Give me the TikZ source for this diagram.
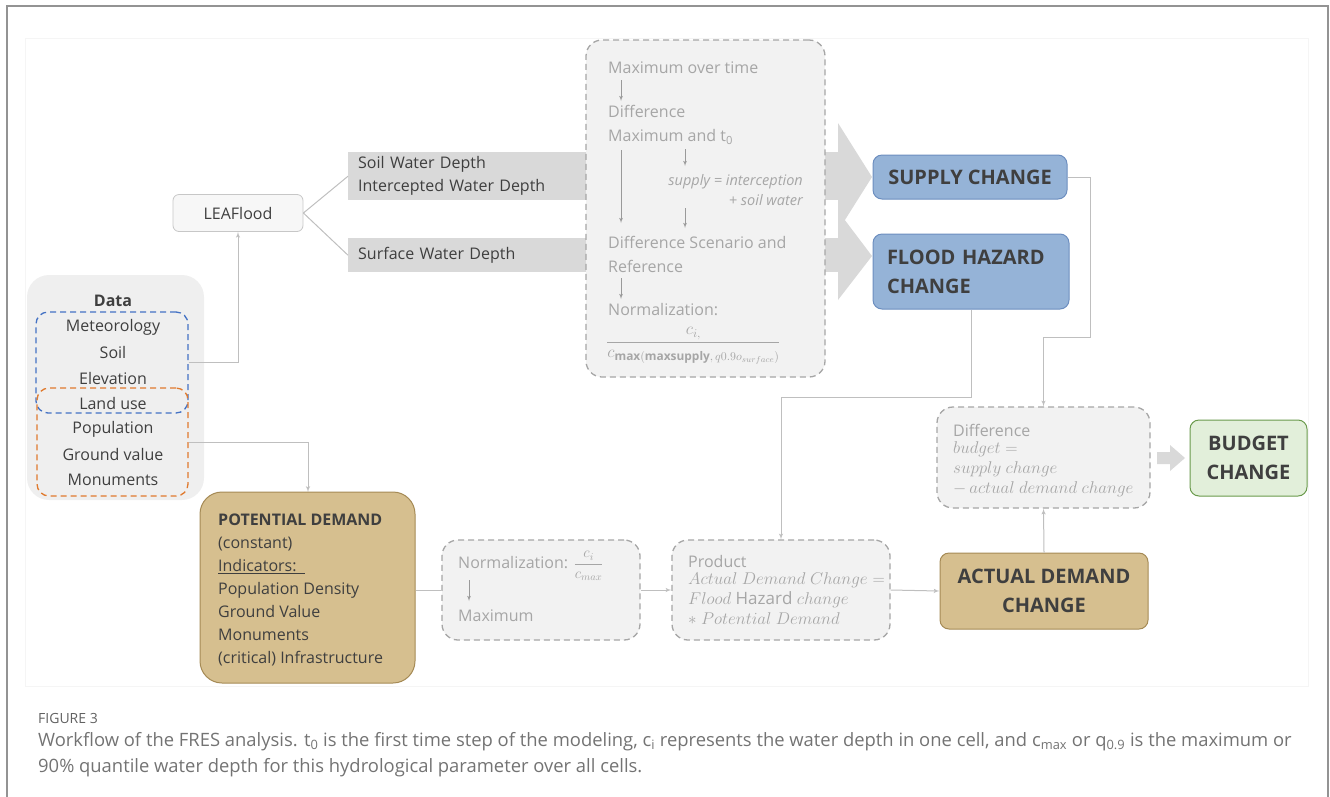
\RequirePackage{fix-cm}
\documentclass[tikz,border=0pt]{standalone}
\usepackage{fontspec}
\setmainfont{Open Sans}
\usepackage{color}
\usetikzlibrary{shapes,arrows}

\definecolor{darktext}{HTML}{3F3F3F}
\definecolor{fainttext}{HTML}{A6A6A6}
\definecolor{linegray}{HTML}{BFBFBF}
\definecolor{tipgray}{HTML}{9A9A9A}
\definecolor{bargray}{HTML}{D9D9D9}
\definecolor{boxgray}{HTML}{F2F2F2}
\definecolor{datagray}{HTML}{EFEFEF}
\definecolor{dashgray}{HTML}{A6A6A6}
\definecolor{bluefill}{HTML}{95B3D7}
\definecolor{bluedraw}{HTML}{6C8EBF}
\definecolor{tanfill}{HTML}{D6BF8F}
\definecolor{tandraw}{HTML}{A58A55}
\definecolor{greenfill}{HTML}{E2EFDA}
\definecolor{greendraw}{HTML}{6A9A4C}
\definecolor{dataBlue}{HTML}{4472C4}
\definecolor{dataOrange}{HTML}{E07A2E}

\tikzstyle{block} = [rectangle, draw=bluedraw, fill=bluefill, line width=1pt,
    rounded corners=9pt, text=darktext, font=\bfseries\fontsize{20}{29}\selectfont]
\tikzstyle{dashbox} = [rectangle, draw=dashgray, fill=boxgray, line width=1.3pt,
    dash pattern=on 6pt off 4pt, rounded corners=16pt]
\tikzstyle{bar} = [rectangle, fill=bargray, inner xsep=10pt, inner ysep=0pt,
    align=left, text=darktext, font=\fontsize{16}{23}\selectfont, anchor=north west]
\tikzstyle{faint} = [inner sep=0pt, text=fainttext, align=left,
    font=\fontsize{16}{24}\selectfont]
\tikzstyle{formula} = [faint, font=\fontsize{17}{20}\selectfont]
\tikzstyle{item} = [inner sep=0pt, text=darktext, font=\fontsize{16}{20}\selectfont]
\tikzstyle{line} = [draw=linegray, line width=1pt, -latex']
\tikzstyle{inner} = [draw=tipgray, line width=0.8pt, -latex']

\begin{document}
\begin{tikzpicture}[x=1pt, y=-1pt]
	\useasboundingbox (0,0) rectangle (1330,796);

	% frame of the page
	\draw[gray!85, line width=1.6pt] (7,800) -- (7,6) -- (1328,6) -- (1328,800);
	\draw[black!4] (25,38) rectangle (1308,686);

	% data
	\node[fill=datagray, rounded corners=22pt, minimum width=177, minimum height=225] (data) at (115.5,387.5) {};
	\node[item, font=\bfseries\fontsize{16}{20}\selectfont] (datatitle) at (113,301) {Data};
	\node[draw=dataBlue, line width=1.3pt, dash pattern=on 6pt off 4pt, rounded corners=12pt,
	      minimum width=152, minimum height=101] (hydro) at (112,362.5) {};
	\node[draw=dataOrange, line width=1.3pt, dash pattern=on 6pt off 4pt, rounded corners=12pt,
	      minimum width=151, minimum height=108] (social) at (112.5,442) {};
	\node[item] (meteo) at (113,327) {Meteorology};
	\node[item] (soil) at (113,352.5) {Soil};
	\node[item] (elev) at (113,378) {Elevation};
	\node[item] (landuse) at (113,403.5) {Land use};
	\node[item] (popul) at (113,429) {Population};
	\node[item] (ground) at (113,454.5) {Ground value};
	\node[item] (monum) at (113,480) {Monuments};

	% model
	\node[rectangle, draw=black!22, fill=black!3, rounded corners=6pt, line width=0.8pt,
	      minimum width=130, minimum height=37, text=darktext, font=\fontsize{16}{20}\selectfont] (leaflood) at (238,213) {LEAFlood};

	% output bars
	\node[bar, text width=474, minimum height=48] (soilbar) at (348,152) {Soil Water Depth\\Intercepted Water Depth};
	\node[bar, text width=474, minimum height=34] (surfbar) at (348,238) {Surface Water Depth};
	\fill[bargray] (838,123) -- (872,177) -- (838,231) -- cycle;
	\fill[bargray] (838,211) -- (872,256) -- (838,300) -- cycle;

	\draw[linegray, line width=1pt] (leaflood.east) -- (soilbar.west);
	\draw[linegray, line width=1pt] (leaflood.east) -- (surfbar.west);
	\path[line] (hydro.east) -| (leaflood.south);
	\path[line] (social.east) -| (308,492);

	% processing steps
	\node[dashbox, minimum width=239, minimum height=337] (steps) at (705.5,208.5) {};
	\node[faint, anchor=west] (maxtime) at (608,68) {Maximum over time};
	\node[faint, anchor=west] (diffmax) at (608,125) {Difference\\Maximum and t\textsubscript{0}};
	\node[faint, anchor=east, font=\itshape\fontsize{14.5}{20}\selectfont, align=right] (supplysum) at (803,190) {supply = interception\\+ soil water};
	\node[faint, anchor=west] (diffscen) at (608,254.5) {Difference Scenario and\\Reference};
	\node[faint, anchor=west] (normal) at (608,310) {Normalization:};
	\node[faint, anchor=north west, font=\fontsize{17}{22}\selectfont] (normfrac) at (606,327)
	     {$\displaystyle\frac{c_{i,}}{c_{\mathbf{max(maxsupply},\,q0.9o_{surface})}}$};
	\path[inner] (621,80) -- (621,101);
	\path[inner] (621,150) -- (621,223);
	\path[inner] (685,149) -- (685,166);
	\path[inner] (685,208) -- (685,228);
	\path[inner] (621,278) -- (621,299);

	% results
	\node[block, minimum width=194, minimum height=44] (supply) at (970,177) {SUPPLY CHANGE};
	\node[block, minimum width=196, minimum height=75, align=left, text width=168] (flood) at (971,271.5) {FLOOD HAZARD\\CHANGE};

	% demand
	\node[rectangle, draw=tandraw, fill=tanfill, rounded corners=22pt, line width=1pt,
	      minimum width=215, minimum height=191] (potential) at (307.5,587.5) {};
	\node[item, anchor=north west, align=left, font=\fontsize{16}{23}\selectfont] (potlist) at (218,514)
	     {\textbf{POTENTIAL DEMAND}\\(constant)\\\underline{Indicators:\ \ }\\Population Density\\Ground Value\\Monuments\\(critical) Infrastructure};

	\node[dashbox, minimum width=198, minimum height=100] (normbox) at (541,590) {};
	\node[faint, anchor=west] (normtext) at (458,566) {Normalization: {\fontsize{15}{18}\selectfont$\displaystyle\frac{c_i}{c_{max}}$}};
	\node[faint, anchor=west] (maxtext) at (458,616) {Maximum};
	\path[inner] (469,580) -- (469,601);

	\node[dashbox, minimum width=218, minimum height=100] (product) at (781,590) {};
	\node[faint, anchor=west] (prodtext) at (688,561) {Product};
	\node[formula, anchor=north west] (prodformula) at (688,572)
	     {$Actual\ Demand\ Change =$\\$Flood\ \mathrm{Hazard}\ change$\\$\ast\ Potential\ Demand$};

	\node[block, fill=tanfill, draw=tandraw, minimum width=208, minimum height=76, align=center] (actual) at (1044,591) {ACTUAL DEMAND\\CHANGE};

	% budget
	\node[dashbox, minimum width=213, minimum height=101] (diffbox) at (1043.5,457.5) {};
	\node[faint, anchor=west] (difftext) at (953,430) {Difference};
	\node[formula, anchor=north west] (diffformula) at (953,441)
	     {$budget =$\\$supply\ change$\\$-\,actual\ demand\ change$};
	\node[block, fill=greenfill, draw=greendraw, minimum width=117, minimum height=76, align=center] (budget) at (1248.5,458) {BUDGET\\CHANGE};
	\fill[bargray] (1157,452) -- (1170,452) -- (1170,445) -- (1185,458) -- (1170,471) -- (1170,464) -- (1157,464) -- cycle;

	% connectors
	\draw[linegray, line width=1pt] (potential.east |- normbox.west) -- (normbox.west);
	\path[line] (normbox.east) -- (product.west);
	\path[line] (product.east) -- (actual.west);
	\path[line] (actual.north) -- (diffbox.south);
	\path[line] (supply.east) -| (1090,337) -| (diffbox.north);
	\path[line] (flood.south) -- ++(0,88) -| (product.north);

	% caption
	\node[anchor=west, inner sep=0pt, text=black!62, font=\fontsize{14}{16}\selectfont] (figlabel) at (38,718) {FIGURE 3};
	\node[anchor=north west, inner sep=0pt, text=black!55, align=left, font=\fontsize{18.4}{26}\selectfont] (caption) at (38,732)
	     {Workflow of the FRES analysis. t\textsubscript{0} is the first time step of the modeling, c\textsubscript{i} represents the water depth in one cell, and c\textsubscript{max} or q\textsubscript{0.9} is the maximum or\\90\% quantile water depth for this hydrological parameter over all cells.};
\end{tikzpicture}
\end{document}
